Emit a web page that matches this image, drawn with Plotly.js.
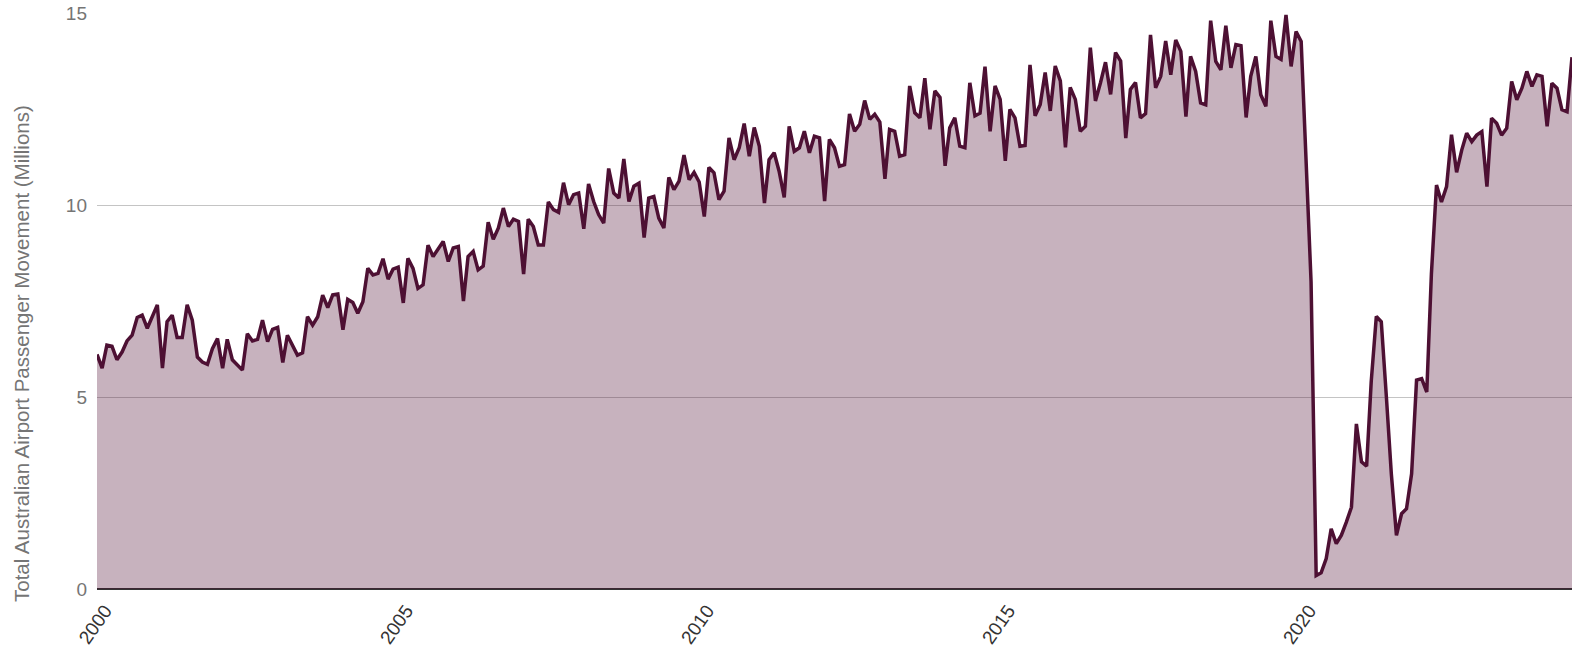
<!DOCTYPE html>
<html>
<head>
<meta charset="utf-8">
<script src="https://cdn.plot.ly/plotly-3.0.1.min.js"></script>
<style>
  html, body { margin: 0; padding: 0; background: #ffffff; }
  #chart { width: 1572px; height: 655px; }
</style>
</head>
<body>
<div id="chart"></div>
<script>
// Monthly total passenger movements (millions), Jan..Dec per year
const p2000 = [6.11, 5.75, 6.35, 6.32, 5.97, 6.17, 6.46, 6.61, 7.07, 7.13, 6.79, 7.07];
const p2001 = [7.40, 5.75, 6.96, 7.13, 6.55, 6.55, 7.40, 7.00, 6.04, 5.91, 5.85, 6.26];
const p2002 = [6.52, 5.75, 6.50, 5.97, 5.83, 5.70, 6.65, 6.46, 6.50, 7.00, 6.44, 6.76];
const p2003 = [6.81, 5.90, 6.61, 6.35, 6.09, 6.15, 7.09, 6.87, 7.09, 7.65, 7.33, 7.66];
const p2004 = [7.68, 6.75, 7.54, 7.46, 7.18, 7.48, 8.35, 8.18, 8.22, 8.60, 8.07, 8.33];
const p2005 = [8.38, 7.45, 8.61, 8.35, 7.83, 7.92, 8.95, 8.66, 8.88, 9.05, 8.53, 8.88];
const p2006 = [8.92, 7.50, 8.66, 8.79, 8.31, 8.41, 9.55, 9.11, 9.40, 9.92, 9.44, 9.63];
const p2007 = [9.57, 8.20, 9.63, 9.44, 8.96, 8.96, 10.08, 9.88, 9.81, 10.58, 10.01, 10.27];
const p2008 = [10.31, 9.38, 10.55, 10.09, 9.75, 9.53, 10.95, 10.31, 10.18, 11.20, 10.09, 10.49];
const p2009 = [10.57, 9.15, 10.18, 10.22, 9.66, 9.40, 10.72, 10.40, 10.62, 11.30, 10.66, 10.85];
const p2010 = [10.60, 9.70, 10.98, 10.84, 10.14, 10.36, 11.75, 11.18, 11.49, 12.12, 11.27, 12.02];
const p2011 = [11.53, 10.05, 11.18, 11.36, 10.88, 10.20, 12.05, 11.40, 11.49, 11.92, 11.36, 11.79];
const p2012 = [11.75, 10.10, 11.71, 11.49, 11.01, 11.05, 12.37, 11.92, 12.10, 12.72, 12.23, 12.36];
const p2013 = [12.16, 10.68, 11.97, 11.92, 11.27, 11.31, 13.10, 12.40, 12.27, 13.30, 11.97, 12.97];
const p2014 = [12.80, 11.02, 12.01, 12.27, 11.53, 11.49, 13.18, 12.32, 12.39, 13.60, 11.92, 13.10];
const p2015 = [12.75, 11.15, 12.49, 12.27, 11.53, 11.55, 13.65, 12.32, 12.62, 13.45, 12.45, 13.62];
const p2016 = [13.23, 11.50, 13.06, 12.75, 11.92, 12.05, 14.10, 12.71, 13.19, 13.72, 12.88, 13.97];
const p2017 = [13.75, 11.74, 13.01, 13.19, 12.27, 12.38, 14.43, 13.05, 13.35, 14.27, 13.39, 14.30];
const p2018 = [14.00, 12.30, 13.87, 13.48, 12.66, 12.61, 14.80, 13.74, 13.52, 14.67, 13.57, 14.18];
const p2019 = [14.15, 12.28, 13.35, 13.87, 12.87, 12.57, 14.80, 13.87, 13.79, 14.95, 13.61, 14.52];
const p2020 = [14.26, 11.10, 8.00, 0.35, 0.42, 0.79, 1.57, 1.18, 1.40, 1.74, 2.13, 4.30];
const p2021 = [3.31, 3.20, 5.40, 7.10, 6.96, 5.00, 3.00, 1.40, 1.96, 2.09, 3.00, 5.44];
const p2022 = [5.48, 5.13, 8.20, 10.52, 10.08, 10.48, 11.83, 10.85, 11.43, 11.87, 11.65, 11.82];
const p2023 = [11.91, 10.48, 12.26, 12.13, 11.82, 12.00, 13.22, 12.74, 13.04, 13.48, 13.09, 13.39];
const p2024 = [13.35, 12.05, 13.17, 13.04, 12.48, 12.43, 13.85];

const years = [2000, 2001, 2002, 2003, 2004, 2005, 2006, 2007, 2008, 2009, 2010, 2011,
               2012, 2013, 2014, 2015, 2016, 2017, 2018, 2019, 2020, 2021, 2022, 2023, 2024];
const yearSeries = [p2000, p2001, p2002, p2003, p2004, p2005, p2006, p2007, p2008, p2009,
                    p2010, p2011, p2012, p2013, p2014, p2015, p2016, p2017, p2018, p2019,
                    p2020, p2021, p2022, p2023, p2024];

const yTickVals = [0, 5, 10, 15];
const yTickText = ['0', '5', '10', '15'];
const yTitle = 'Total Australian Airport Passenger Movement (Millions)';

const xDates = [];
const yVals = [];
years.forEach((yr, i) => {
  yearSeries[i].forEach((v, m) => {
    xDates.push(yr + '-' + String(m + 1).padStart(2, '0') + '-01');
    yVals.push(v);
  });
});

const FONT = '"Liberation Sans", Arial, sans-serif';

const trace = {
  x: xDates,
  y: yVals,
  type: 'scatter',
  mode: 'lines',
  fill: 'tozeroy',
  fillcolor: 'rgba(80, 16, 52, 0.32)',
  line: { color: '#4d1033', width: 3.5 },
  hoverinfo: 'x+y'
};

const layout = {
  width: 1572,
  height: 655,
  margin: { l: 97, r: 0, t: 13, b: 66, pad: 0 },
  paper_bgcolor: '#ffffff',
  plot_bgcolor: '#ffffff',
  showlegend: false,
  font: { family: FONT, size: 19, color: '#757575' },
  xaxis: {
    type: 'date',
    range: ['2000-01-01', '2024-07-01'],
    tick0: '2000-01-01',
    dtick: 'M60',
    tickformat: '%Y',
    tickangle: -55,
    ticklabelshift: 8,
    ticklabelstandoff: 6,
    showgrid: false,
    zeroline: false,
    showline: false,
    ticks: '',
    tickfont: { family: FONT, size: 19, color: '#333333' }
  },
  yaxis: {
    range: [0, 15],
    tickvals: yTickVals,
    ticktext: yTickText,
    showgrid: true,
    gridcolor: '#c4c4c4',
    gridwidth: 1,
    zeroline: true,
    zerolinecolor: '#333333',
    zerolinewidth: 2,
    ticks: '',
    ticklabelstandoff: 9,
    tickfont: { family: FONT, size: 19, color: '#757575' },
    fixedrange: true
  },
  annotations: [{
    text: yTitle,
    xref: 'paper', yref: 'paper',
    x: 0, y: 0.408,
    xanchor: 'center', yanchor: 'middle',
    xshift: -75,
    textangle: -90,
    showarrow: false,
    font: { family: FONT, size: 20.5, color: '#757575' }
  }]
};

Plotly.newPlot('chart', [trace], layout, { displayModeBar: false, staticPlot: true });
</script>
</body>
</html>
